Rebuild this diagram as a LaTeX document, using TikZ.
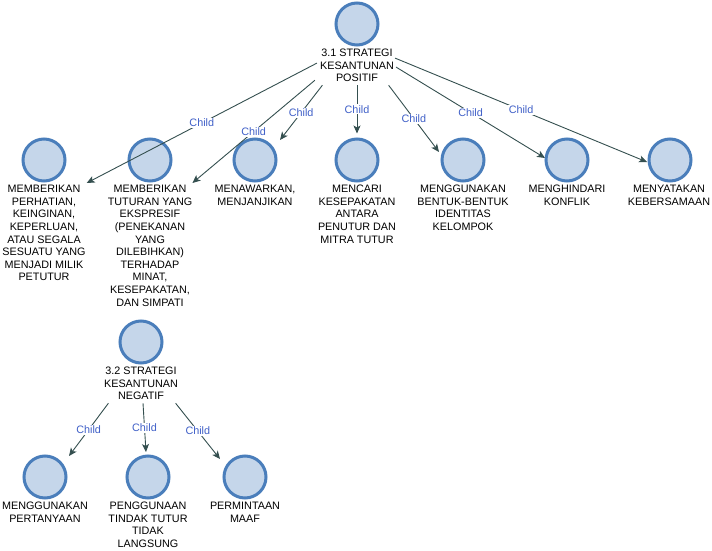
\documentclass[tikz,border=0pt]{standalone}
\usepackage{fontspec}
\setmainfont{Liberation Sans}
\usetikzlibrary{arrows.meta,calc}
\definecolor{edgecol}{RGB}{52,79,79}
\definecolor{childcol}{RGB}{64,96,200}
\definecolor{circborder}{RGB}{74,126,187}
\definecolor{circfill}{RGB}{197,214,234}
\tikzset{
  topic/.style={circle,draw=circborder,fill=circfill,line width=3pt,minimum size=42pt,inner sep=0pt},
  caption/.style={anchor=north,align=center,inner sep=3pt,font=\fontsize{10.8}{12.6}\selectfont},
  link/.style={draw=edgecol,line width=0.9pt,-{Stealth[length=8pt,width=7pt,inset=2pt]}},
  linklabel/.style={midway,fill=white,inner sep=1pt,text=childcol,font=\fontsize{10.8}{12}\selectfont}
}
\begin{document}
\begin{tikzpicture}[x=1pt,y=-1pt]
\useasboundingbox (0,0) rectangle (712,551);
% root
\node[topic] (r) at (357,24) {};
\node[caption] (rl) at ($(r.center)+(0,22)$) {3.1 STRATEGI\\KESANTUNAN\\POSITIF};
% level 1
\node[topic] (c1) at (44,160) {};
\node[topic] (c2) at (150,160) {};
\node[topic] (c3) at (255,160) {};
\node[topic] (c4) at (357,160) {};
\node[topic] (c5) at (463,160) {};
\node[topic] (c6) at (567,160) {};
\node[topic] (c7) at (670,160) {};
\node[caption] (l1) at ($(c1.center)+(0,22)$) {MEMBERIKAN\\PERHATIAN,\\KEINGINAN,\\KEPERLUAN,\\ATAU SEGALA\\SESUATU YANG\\MENJADI MILIK\\PETUTUR};
\node[caption] (l2) at ($(c2.center)+(0,22)$) {MEMBERIKAN\\TUTURAN YANG\\EKSPRESIF\\(PENEKANAN\\YANG\\DILEBIHKAN)\\TERHADAP\\MINAT,\\KESEPAKATAN,\\DAN SIMPATI};
\node[caption] (l3) at ($(c3.center)+(0,22)$) {MENAWARKAN,\\MENJANJIKAN};
\node[caption] (l4) at ($(c4.center)+(0,22)$) {MENCARI\\KESEPAKATAN\\ANTARA\\PENUTUR DAN\\MITRA TUTUR};
\node[caption] (l5) at ($(c5.center)+(0,22)$) {MENGGUNAKAN\\BENTUK-BENTUK\\IDENTITAS\\KELOMPOK};
\node[caption] (l6) at ($(c6.center)+(0,22)$) {MENGHINDARI\\KONFLIK};
\node[caption] (l7) at ($(c7.center)+(-1,22)$) {MENYATAKAN\\KEBERSAMAAN};
% negative subtree
\node[topic] (n) at (141,342) {};
\node[caption] (nl) at ($(n.center)+(0,22)$) {3.2 STRATEGI\\KESANTUNAN\\NEGATIF};
\node[topic] (n1) at (45,477) {};
\node[topic] (n2) at (148,477) {};
\node[topic] (n3) at (245,477) {};
\node[caption] (m1) at ($(n1.center)+(0,22)$) {MENGGUNAKAN\\PERTANYAAN};
\node[caption] (m2) at ($(n2.center)+(0,22)$) {PENGGUNAAN\\TINDAK TUTUR\\TIDAK\\LANGSUNG};
\node[caption] (m3) at ($(n3.center)+(0,22)$) {PERMINTAAN\\MAAF};
% connectors
\draw[link] ($(rl.west)+(0,-2.5)$) -- ($(l1.north east)+(-2,1)$) node[linklabel] {Child};
\draw[link] ($(rl.south west)+(-2,-5)$) -- ($(l2.north east)+(-3,1)$) node[linklabel] {Child};
\draw[link] ($(rl.south west)+(5.5,0)$) -- ($(c3.center)+(25,-20)$) node[linklabel] {Child};
\draw[link] (rl.south) -- ($(c4.north)+(0,-4)$) node[linklabel] {Child};
\draw[link] ($(rl.south east)+(-8.5,0)$) -- ($(c5.center)+(-24,-8)$) node[linklabel] {Child};
\draw[link] ($(rl.east)+(-1,1.5)$) -- ($(c6.center)+(-22,-2)$) node[linklabel] {Child};
\draw[link] ($(rl.east)+(-2,-7.5)$) -- ($(c7.center)+(-23,2)$) node[linklabel] {Child};
\draw[link] ($(nl.south west)+(7.5,0)$) -- ($(n1.center)+(24,-21)$) node[linklabel] {Child};
\draw[link] ($(nl.south)+(2,0)$) -- ($(n2.center)+(-2,-25)$) node[linklabel] {Child};
\draw[link] ($(nl.south east)+(-5.5,0)$) -- ($(n3.center)+(-25,-18)$) node[linklabel] {Child};
\end{tikzpicture}
\end{document}
